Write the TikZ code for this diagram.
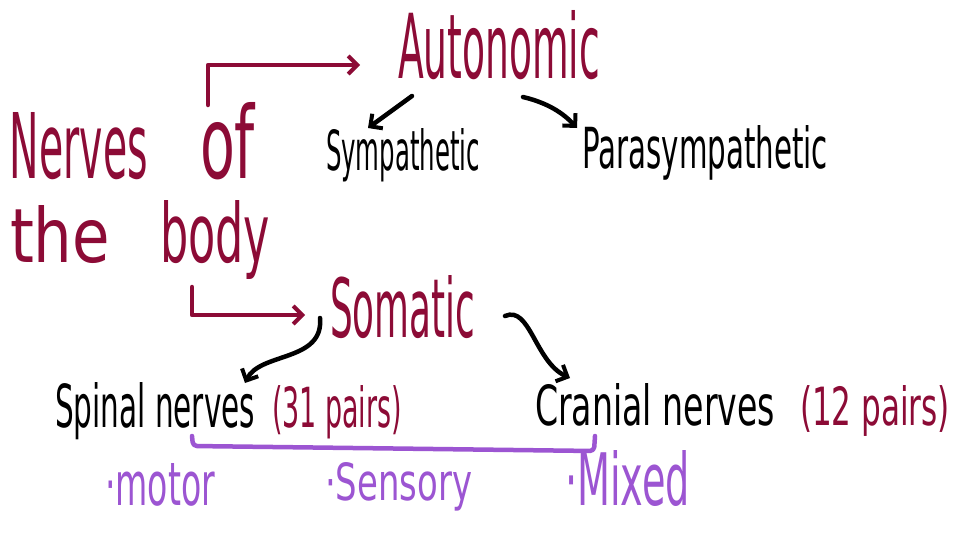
\documentclass[tikz,border=0pt]{standalone}
\usepackage{fontspec}
\setmainfont{DejaVu Sans}
\usetikzlibrary{arrows.meta}
\definecolor{maroon}{HTML}{8C0B36}
\definecolor{lav}{HTML}{9C55D2}
\newcommand\fitxt[3]{\resizebox{#1pt}{#2pt}{#3}}
\begin{document}
\begin{tikzpicture}[x=1pt,y=-1pt,
  lbl/.style={anchor=base west,inner sep=0pt,outer sep=0pt},
  hw/.style={line width=4.5pt,line cap=round,line join=round},
  tip/.style={-{Straight Barb[length=9pt,width=18pt,line width=4pt]}},
  marr/.style={hw,tip,draw=maroon},
  barr/.style={hw,tip,draw=black},
  brk/.style={hw,draw=lav,rounded corners=4pt}]
\useasboundingbox[fill=white] (0,0) rectangle (955,535);
% main title
\node[lbl,text=maroon] (nerves) at (10,178) {\fitxt{138}{66}{Nerves}};
\node[lbl,text=maroon] (of) at (200,178) {\fitxt{55}{76}{of}};
\node[lbl,text=maroon] (the) at (10,262) {\fitxt{100}{57}{the}};
\node[lbl,text=maroon] (body) at (160,262) {\fitxt{110}{62}{body}};
% autonomic
\node[lbl,text=maroon] (auto) at (398,78) {\fitxt{202}{68}{Autonomic}};
\node[lbl] (symp) at (326,170) {\fitxt{154}{42}{Sympathetic}};
\node[lbl] (para) at (582,168) {\fitxt{246}{43}{Parasympathetic}};
% somatic
\node[lbl,text=maroon] (som) at (330,337) {\fitxt{145}{62}{Somatic}};
\node[lbl] (spinal) at (55,427) {\fitxt{200}{45}{Spinal nerves}};
\node[lbl,text=maroon] (sp31) at (272,427) {\fitxt{130}{42}{(31 pairs)}};
\node[lbl] (cran) at (535,425) {\fitxt{240}{42}{Cranial nerves}};
\node[lbl,text=maroon] (cr12) at (800,425) {\fitxt{150}{40}{(12 pairs)}};
% types
\node[lbl,text=lav] (motor) at (105,505) {\fitxt{110}{42}{·motor}};
\node[lbl,text=lav] (sens) at (325,500) {\fitxt{147}{38}{·Sensory}};
\node[lbl,text=lav] (mixed) at (565,505) {\fitxt{125}{55}{·Mixed}};
% connectors
\coordinate (s1) at ([shift={(8,-73)}]of.base west);
\draw[marr] (s1) |- ([shift={(-38,-13)}]auto.base west);
\coordinate (s2) at ([shift={(32,25)}]body.base west);
\draw[marr] (s2) |- ([shift={(-25,-22)}]som.base west);
\draw[barr] ([shift={(14,18)}]auto.base west) -- ([shift={(42,-42)}]symp.base west);
\draw[barr] ([shift={(125,19)}]auto.base west) .. controls ([shift={(150,25)}]auto.base west) and ([shift={(165,35)}]auto.base west) .. ([shift={(-5,-40)}]para.base west);
\draw[barr] ([shift={(-10,-19)}]som.base west) .. controls ([shift={(-6,25)}]som.base west) and ([shift={(-70,15)}]som.base west) .. ([shift={(-27,-44)}]sp31.base west);
\draw[barr] ([shift={(175,-21)}]som.base west) .. controls ([shift={(200,-32)}]som.base west) and ([shift={(205,25)}]som.base west) .. ([shift={(35,-47)}]cran.base west);
% bracket
\draw[brk] ([shift={(137,9)}]spinal.base west) -- ([shift={(138,19)}]spinal.base west) -- ([shift={(59,26)}]cran.base west) -- ([shift={(60,11)}]cran.base west);
\end{tikzpicture}
\end{document}
